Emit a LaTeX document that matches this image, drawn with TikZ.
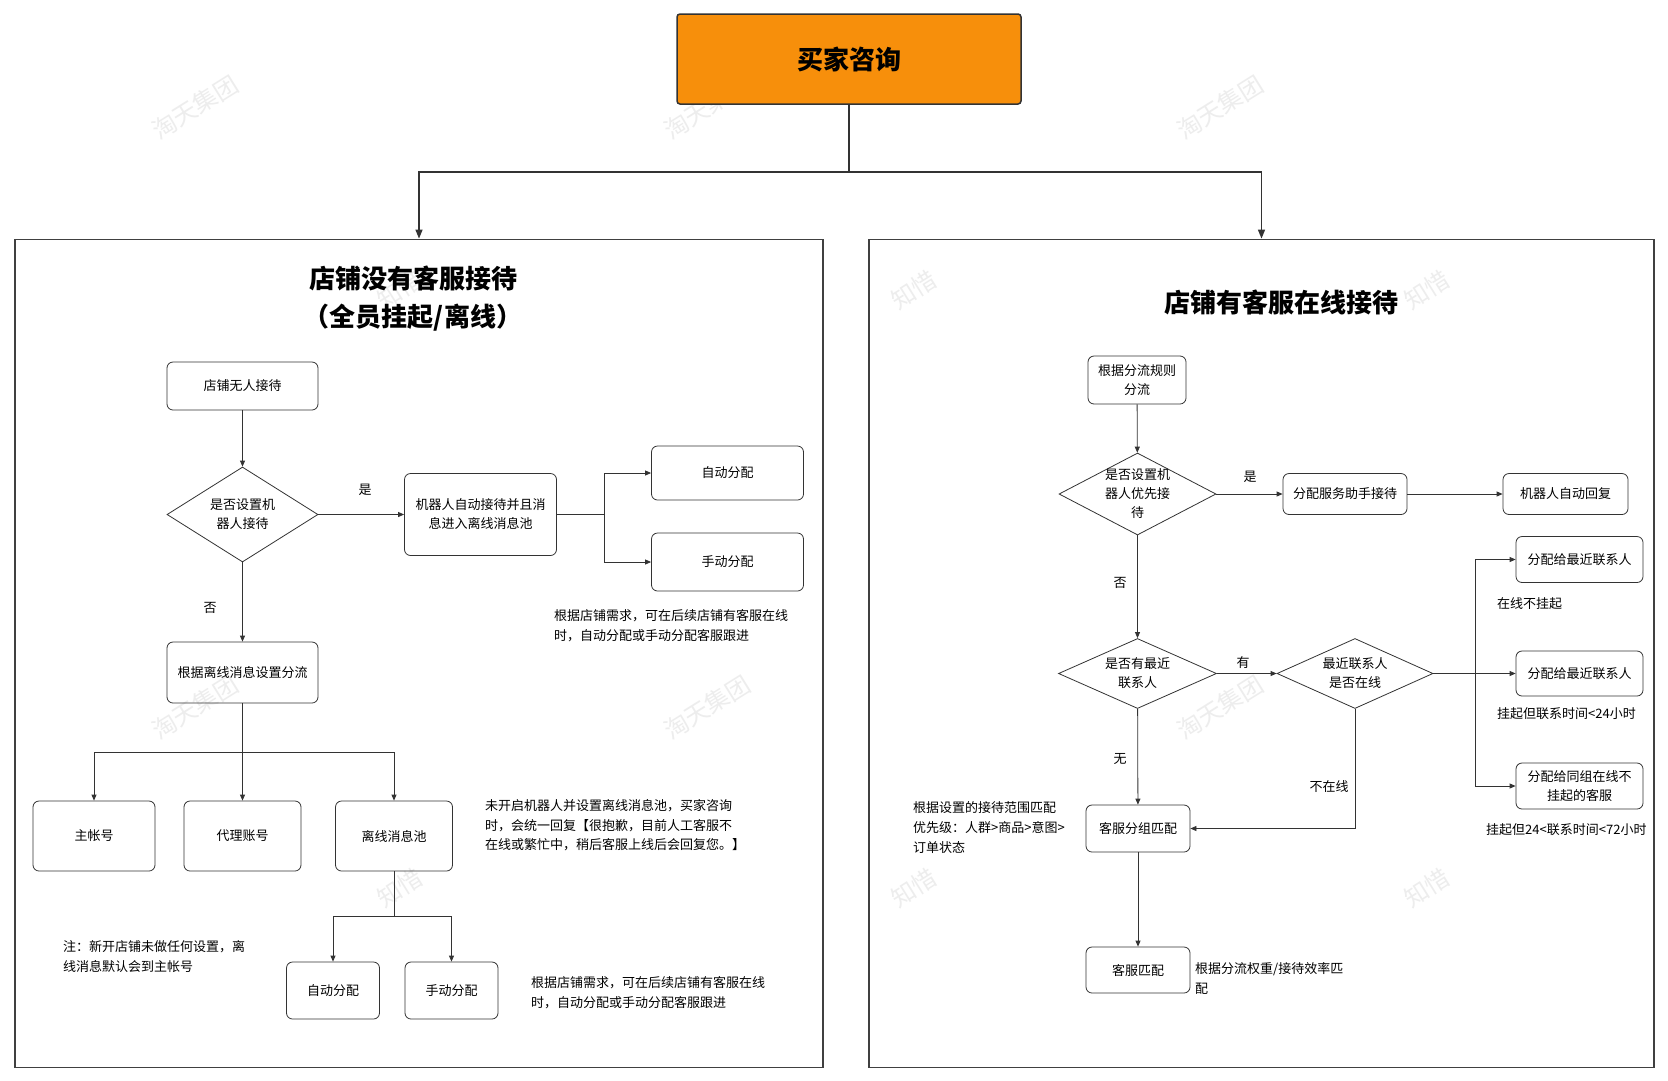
\documentclass[tikz,border=0pt]{standalone}
\usepackage{fontspec}
\setmainfont{Noto Sans CJK SC}
\usetikzlibrary{shapes.geometric,arrows.meta}
\definecolor{lc}{HTML}{333333}
\definecolor{org}{HTML}{F78F0B}
\begin{document}
\begin{tikzpicture}[x=1pt,y=-1pt,
 box/.style={draw=lc, line width=0.8pt, rounded corners=6pt, align=center, inner sep=0pt, font=\fontsize{13}{19}\selectfont},
 dia/.style={draw=lc, line width=0.8pt, diamond, inner sep=0pt},
 dtxt/.style={align=center, inner sep=0pt, font=\fontsize{13}{19}\selectfont},
 note/.style={anchor=west, align=left, inner sep=0pt, font=\fontsize{13}{20}\selectfont},
 lbl/.style={inner sep=0pt, font=\fontsize{13}{19}\selectfont},
 arr/.style={draw=lc, line width=0.8pt, -{Triangle[length=6pt,width=5pt]}},
 ln/.style={draw=lc, line width=0.8pt},
 toparr/.style={draw=lc, line width=1.4pt, -{Triangle[length=9pt,width=7pt]}},
 wm/.style={text=black!7, font=\fontsize{24}{24}\selectfont, rotate=32, inner sep=0pt},
 panel/.style={draw=black!75, line width=1.8pt, inner sep=0pt},
 ttl/.style={font=\bfseries\fontsize{26}{38}\selectfont, align=center, inner sep=0pt}
]
\useasboundingbox (0,0) rectangle (1668,1080);
\fill[white] (0,0) rectangle (1668,1080);
% watermarks
\foreach \x in {195,707,1220} { \foreach \y in {107,707} { \node[wm] at (\x,\y) {淘天集团}; } }
\foreach \x in {400,914,1427} { \foreach \y in {290,888} { \node[wm] at (\x,\y) {知惜}; } }

% panels
\node[panel, minimum width=808pt, minimum height=828pt] (LP) at (419,653.5) {};
\node[panel, minimum width=785pt, minimum height=828pt] (RP) at (1261.5,653.5) {};

% top box
\node[fill=org, draw=lc, line width=1.5pt, rounded corners=3pt, minimum width=344pt, minimum height=90pt, inner sep=0pt, font=\bfseries\fontsize{26}{30}\selectfont] (top) at (849,59) {买家咨询};
\coordinate (tj) at (849,172);
\draw[toparr] (top.south) -- (tj) -| (LP.north);
\draw[toparr] (tj) -| (RP.north);

% titles
\node[ttl] (lt) at (413,299) {店铺没有客服接待\\（全员挂起/离线）};
\node[ttl] (rt) at (1281,302) {店铺有客服在线接待};

% left flow
\node[box, minimum width=151pt, minimum height=48pt] (a) at (242.5,386) {店铺无人接待};
\node[dia, minimum width=151pt, minimum height=95pt] (d1) at (242.5,514.5) {};
\node[dtxt] (d1t) at (d1.center) {是否设置机\\器人接待};
\node[box, minimum width=152pt, minimum height=82pt] (b) at (480.5,514.5) {机器人自动接待并且消\\息进入离线消息池};
\node[box, minimum width=152pt, minimum height=54pt] (c1) at (727.5,473) {自动分配};
\node[box, minimum width=152pt, minimum height=58pt] (c2) at (727.5,562) {手动分配};
\node[box, minimum width=151pt, minimum height=61pt] (e) at (242.5,672.5) {根据离线消息设置分流};
\node[box, minimum width=122pt, minimum height=70pt] (f1) at (94,836) {主帐号};
\node[box, minimum width=117pt, minimum height=70pt] (f2) at (242.5,836) {代理账号};
\node[box, minimum width=117pt, minimum height=70pt] (f3) at (394,836) {离线消息池};
\node[box, minimum width=93pt, minimum height=57pt] (g1) at (333,990.5) {自动分配};
\node[box, minimum width=93pt, minimum height=57pt] (g2) at (451.5,990.5) {手动分配};

\draw[arr] (a) -- (d1);
\draw[arr] (d1) -- (b);
\coordinate (s1) at (604,514.5);
\draw[ln] (b.east) -- (s1);
\draw[arr] (s1) |- (c1.west);
\draw[arr] (s1) |- (c2.west);
\draw[arr] (d1) -- (e);
\coordinate (s2) at (242.5,752);
\draw[ln] (e) -- (s2);
\draw[arr] (s2) -| (f1.north);
\draw[arr] (s2) -- (f2);
\draw[arr] (s2) -| (f3.north);
\coordinate (s3) at (394,916);
\draw[ln] (f3) -- (s3);
\draw[arr] (s3) -| (g1.north);
\draw[arr] (s3) -| (g2.north);

\node[lbl] (l1) at (365,490) {是};
\node[lbl] (l2) at (210,608) {否};
\node[note] (n1) at (554,626) {根据店铺需求，可在后续店铺有客服在线\\时，自动分配或手动分配客服跟进};
\node[note, font=\fontsize{13}{19.5}\selectfont] (n2) at (485,825.5) {未开启机器人并设置离线消息池，买家咨询\\时，会统一回复【很抱歉，目前人工客服不\\在线或繁忙中，稍后客服上线后会回复您。】};
\node[note] (n3) at (531,993) {根据店铺需求，可在后续店铺有客服在线\\时，自动分配或手动分配客服跟进};
\node[note] (n4) at (63,957) {注：新开店铺未做任何设置，离\\线消息默认会到主帐号};

% right flow
\node[box, minimum width=98pt, minimum height=48pt] (h) at (1137,380) {根据分流规则\\分流};
\node[dia, minimum width=157pt, minimum height=82pt] (d2) at (1137.5,494) {};
\node[dtxt] (d2t) at (d2.center) {是否设置机\\器人优先接\\待};
\node[box, minimum width=124pt, minimum height=41pt] (i) at (1345,494) {分配服务助手接待};
\node[box, minimum width=125pt, minimum height=41pt] (j) at (1565.5,494) {机器人自动回复};
\node[dia, minimum width=158pt, minimum height=70pt] (d3) at (1137.5,673.5) {};
\node[dtxt] (d3t) at (d3.center) {是否有最近\\联系人};
\node[dia, minimum width=156pt, minimum height=70pt] (d4) at (1355,673.5) {};
\node[dtxt] (d4t) at (d4.center) {最近联系人\\是否在线};
\node[box, minimum width=127pt, minimum height=46pt] (k1) at (1579.5,559.5) {分配给最近联系人};
\node[box, minimum width=127pt, minimum height=45pt] (k2) at (1579.5,673.5) {分配给最近联系人};
\node[box, minimum width=127pt, minimum height=46pt] (k3) at (1579.5,786) {分配给同组在线不\\挂起的客服};
\node[box, minimum width=104pt, minimum height=47pt] (m) at (1138,828.5) {客服分组匹配};
\node[box, minimum width=104pt, minimum height=46pt] (n) at (1138,970) {客服匹配};

\draw[arr] (h) -- (d2);
\draw[arr] (d2) -- (i);
\draw[arr] (i) -- (j);
\draw[arr] (d2) -- (d3);
\draw[arr] (d3) -- (d4);
\coordinate (s4) at (1475,673.5);
\draw[ln] (d4.east) -- (s4);
\draw[arr] (s4) |- (k1.west);
\draw[arr] (s4) -- (k2.west);
\draw[arr] (s4) |- (k3.west);
\draw[arr] (d3) -- (m);
\draw[arr] (d4.south) |- (m.east);
\draw[arr] (m) -- (n);

\node[lbl] (r1) at (1250,477) {是};
\node[lbl] (r2) at (1120,583) {否};
\node[lbl] (r3) at (1243,663) {有};
\node[lbl] (r4) at (1120,759) {无};
\node[lbl] (r5) at (1329,787) {不在线};
\node[lbl, anchor=west] (r6) at (1497,604) {在线不挂起};
\node[lbl, anchor=west] (r7) at (1497,714) {挂起但联系时间<24小时};
\node[lbl, anchor=west] (r8) at (1486,830) {挂起但24<联系时间<72小时};
\node[note] (n5) at (913,828) {根据设置的接待范围匹配\\优先级：人群>商品>意图>\\订单状态};
\node[note] (n6) at (1195,978) {根据分流权重/接待效率匹\\配};
\end{tikzpicture}
\end{document}
